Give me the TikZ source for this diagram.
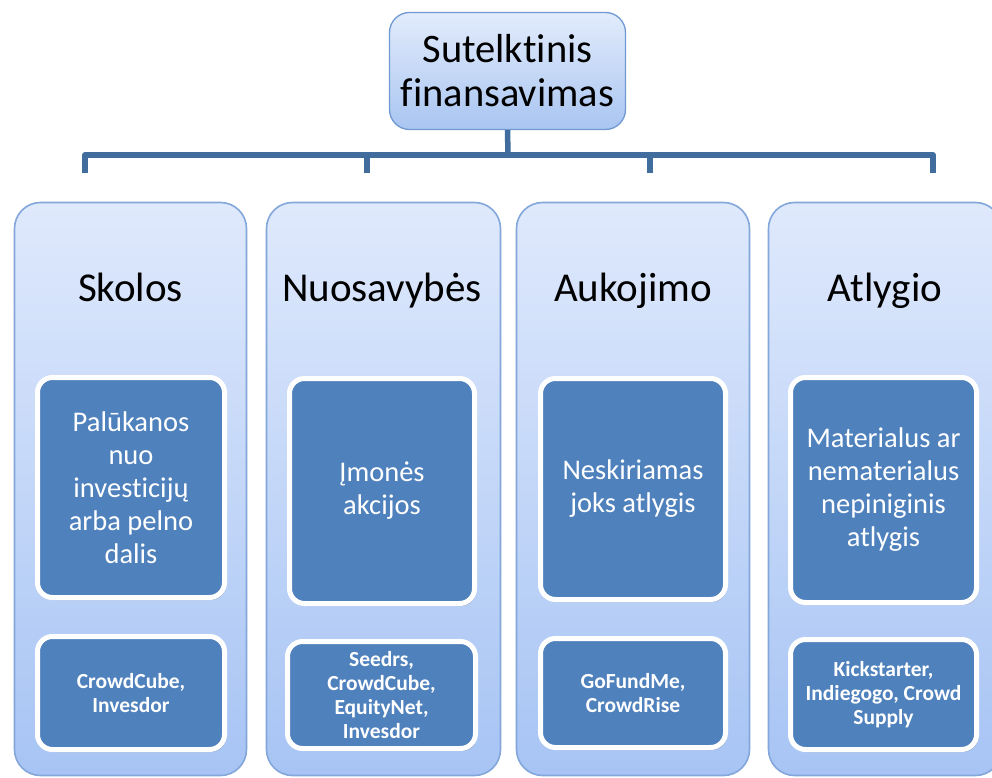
\documentclass[tikz,border=0pt]{standalone}
\usepackage{fontspec}
\setmainfont{Carlito}[RawFeature={-liga}]
\usetikzlibrary{shadows}
\definecolor{rootborder}{HTML}{7099D2}
\definecolor{roottop}{HTML}{E2ECFC}
\definecolor{rootbot}{HTML}{A9C5F1}
\definecolor{coltop}{HTML}{DFE9FC}
\definecolor{colbot}{HTML}{A7C4F4}
\definecolor{colborder}{HTML}{83A7DA}
\definecolor{innerfill}{HTML}{4F81BD}
\definecolor{connclr}{HTML}{406C9E}
\tikzset{
  rootbox/.style={draw=rootborder, line width=1.3pt, rounded corners=20pt,
    top color=roottop, bottom color=rootbot, minimum width=236pt, minimum height=117pt,
    align=center, inner sep=0pt, font=\fontsize{40.5}{44}\selectfont},
  colbox/.style={draw=colborder, line width=1.6pt, rounded corners=26pt,
    top color=coltop, bottom color=colbot, minimum height=573pt, inner sep=0pt},
  heading/.style={font=\fontsize{41}{46}\selectfont, inner sep=0pt, anchor=base},
  innerbox/.style={fill=innerfill, draw=white, line width=5pt, rounded corners=15pt,
    text=white, align=center, inner sep=0pt,
    drop shadow={shadow xshift=1.5pt, shadow yshift=-2.5pt, opacity=0.35, fill=black!70}},
  bigtxt/.style={font=\fontsize{28.5}{33}\selectfont},
  smalltxt/.style={font=\fontsize{21.5}{24}\selectfont\bfseries},
  conn/.style={draw=connclr, line width=5.5pt, line join=round}
}
\begin{document}
\begin{tikzpicture}[x=1pt,y=-1pt]
\clip (0,0) rectangle (992,778);
\fill[white] (0,0) rectangle (992,778);

% root
\node[rootbox] (root) at (507.5,71) {Sutelktinis\\finansavimas};

% connectors
\coordinate (bus) at (508,155);
\coordinate (d1) at (85,173);
\coordinate (d2) at (367,173);
\coordinate (d3) at (650,173);
\coordinate (d4) at (933,173);
\draw[conn] (root.south) -- (bus);
\draw[conn] (d1) |- (bus) -| (d4);
\draw[conn] (d2) -- (d2 |- bus);
\draw[conn] (d3) -- (d3 |- bus);

% columns
\node[colbox, minimum width=232pt] (c1) at (130.5,489) {};
\node[colbox, minimum width=234pt] (c2) at (383.5,489) {};
\node[colbox, minimum width=233pt] (c3) at (633,489) {};
\node[colbox, minimum width=233pt] (c4) at (885,489) {};

% headings
\node[heading] (h1) at (130.5,301) {Skolos};
\node[heading] (h2) at (382,301) {Nuosavybės};
\node[heading] (h3) at (633,301) {Aukojimo};
\node[heading] (h4) at (885,301) {Atlygio};

% inner upper boxes
\node[innerbox, bigtxt, minimum width=187pt, minimum height=220pt] (u1) at (131,487.5)
  {Palūkanos\\nuo\\investicijų\\arba pelno\\dalis};
\node[innerbox, bigtxt, minimum width=185pt, minimum height=225pt] (u2) at (382,491)
  {Įmonės\\akcijos};
\node[innerbox, bigtxt, minimum width=185pt, minimum height=221pt] (u3) at (633,489)
  {Neskiriamas\\joks atlygis};
\node[innerbox, bigtxt, minimum width=186pt, minimum height=225pt] (u4) at (883.5,490)
  {Materialus ar\\nematerialus\\nepiniginis\\atlygis};

% inner lower boxes
\node[innerbox, smalltxt, minimum width=187pt, minimum height=113pt] (l1) at (131,693)
  {CrowdCube,\\Invesdor};
\node[innerbox, smalltxt, minimum width=188pt, minimum height=107pt] (l2) at (381.5,695)
  {Seedrs,\\CrowdCube,\\EquityNet,\\Invesdor};
\node[innerbox, smalltxt, minimum width=185pt, minimum height=109pt] (l3) at (633,693)
  {GoFundMe,\\CrowdRise};
\node[innerbox, smalltxt, minimum width=186pt, minimum height=110pt] (l4) at (883.5,694.5)
  {Kickstarter,\\Indiegogo, Crowd\\Supply};
\end{tikzpicture}
\end{document}
